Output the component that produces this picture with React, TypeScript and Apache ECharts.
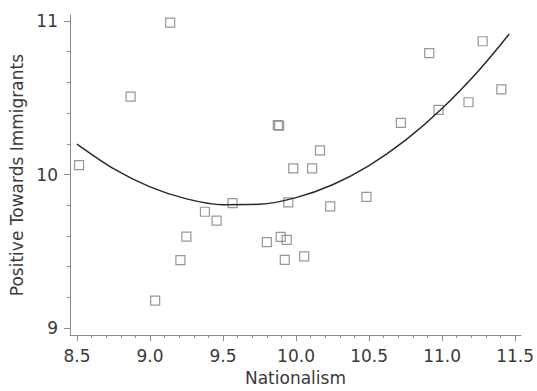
import React, { useEffect, useRef } from "react";
import * as echarts from "echarts";

// Scatter points: Nationalism (x) vs Positive Towards Immigrants (y)
const nationalism = [
  8.514, 8.867, 9.138, 9.035, 9.208, 9.249, 9.376, 9.456, 9.565, 9.8,
  9.875, 9.884, 10.164, 9.981, 10.11, 9.947, 10.234, 10.482, 9.895, 9.936,
  9.923, 10.056, 10.912, 11.278, 11.406, 11.181, 10.976, 10.718,
];
const positiveTowardsImmigrants = [
  10.061, 10.508, 10.989, 9.179, 9.443, 9.596, 9.758, 9.7, 9.814, 9.56,
  10.322, 10.318, 10.158, 10.041, 10.041, 9.819, 9.793, 9.855, 9.594, 9.575,
  9.445, 9.467, 10.791, 10.868, 10.555, 10.471, 10.421, 10.337,
];

// Fitted curve
const fitX = [8.5, 8.75, 9.0, 9.25, 9.5, 9.75, 10.0, 10.25, 10.5, 10.75, 11.0, 11.25, 11.46];
const fitY = [10.199, 10.039, 9.92, 9.842, 9.804, 9.807, 9.85, 9.934, 10.059, 10.224, 10.43, 10.676, 10.915];

// Tick values
const xMajorTicks = [8.5, 9.0, 9.5, 10.0, 10.5, 11.0, 11.5];
const xMinorTicks = [
  8.6, 8.7, 8.8, 8.9, 9.1, 9.2, 9.3, 9.4, 9.6, 9.7, 9.8, 9.9, 10.1, 10.2, 10.3, 10.4,
  10.6, 10.7, 10.8, 10.9, 11.1, 11.2, 11.3, 11.4,
];
const yMajorTicks = [9, 10, 11];
const yMinorTicks = [9.2, 9.4, 9.6, 9.8, 10.2, 10.4, 10.6, 10.8];

const X_MIN = 8.452;
const X_MAX = 11.54;
const Y_MIN = 8.955;
const Y_MAX = 11.039;

const FONT = "DejaVu Sans";
const TEXT = "#3a3a3a";
const AXIS = "#8c8c8c";

export default function App() {
  const ref = useRef<HTMLDivElement>(null);

  useEffect(() => {
    if (!ref.current) return;
    document.body.style.margin = "0";
    const chart = echarts.init(ref.current, undefined, { renderer: "svg" });
    const points = nationalism.map((x, i) => [x, positiveTowardsImmigrants[i]]);
    const curve = fitX.map((x, i) => [x, fitY[i]]);

    const baseX = {
      type: "value",
      min: X_MIN,
      max: X_MAX,
      position: "bottom",
      splitLine: { show: false },
    };
    const baseY = {
      type: "value",
      min: Y_MIN,
      max: Y_MAX,
      position: "left",
      splitLine: { show: false },
    };

    chart.setOption({
      animation: false,
      backgroundColor: "#ffffff",
      grid: { left: 70, right: 14, top: 15, bottom: 54.3, containLabel: false },
      xAxis: [
        {
          ...baseX,
          name: "Nationalism",
          nameLocation: "middle",
          nameGap: 29,
          nameTextStyle: { fontFamily: FONT, fontSize: 17, color: TEXT },
          axisLine: { show: true, lineStyle: { color: AXIS, width: 1 } },
          axisTick: { show: true, length: 6, customValues: xMajorTicks, lineStyle: { color: AXIS } },
          axisLabel: {
            customValues: xMajorTicks,
            margin: 12,
            fontFamily: FONT,
            fontSize: 17,
            color: TEXT,
            formatter: (v: number) => v.toFixed(1),
          },
        },
        {
          ...baseX,
          axisLine: { show: false },
          axisTick: { show: true, length: 3, customValues: xMinorTicks, lineStyle: { color: AXIS } },
          axisLabel: { show: false },
        },
      ],
      yAxis: [
        {
          ...baseY,
          name: "Positive Towards Immigrants",
          nameLocation: "middle",
          nameGap: 40,
          nameTextStyle: { fontFamily: FONT, fontSize: 17, color: TEXT },
          axisLine: { show: true, lineStyle: { color: AXIS, width: 1 } },
          axisTick: { show: true, length: 6, customValues: yMajorTicks, lineStyle: { color: AXIS } },
          axisLabel: {
            customValues: yMajorTicks,
            margin: 12,
            fontFamily: FONT,
            fontSize: 17,
            color: TEXT,
          },
        },
        {
          ...baseY,
          axisLine: { show: false },
          axisTick: { show: true, length: 3, customValues: yMinorTicks, lineStyle: { color: AXIS } },
          axisLabel: { show: false },
        },
      ],
      series: [
        {
          type: "scatter",
          xAxisIndex: 0,
          yAxisIndex: 0,
          data: points,
          symbol: "rect",
          symbolSize: 9,
          itemStyle: { color: "transparent", borderColor: "#7d7d7d", borderWidth: 1.2 },
          silent: true,
        },
        {
          type: "line",
          xAxisIndex: 0,
          yAxisIndex: 0,
          data: curve,
          smooth: 0.3,
          showSymbol: false,
          symbol: "none",
          lineStyle: { color: "#2a2a2a", width: 1.5 },
          silent: true,
        },
      ],
    });

    return () => chart.dispose();
  }, []);

  return (
    <div
      ref={ref}
      style={{ position: "absolute", left: 0, top: 0, width: 537, height: 391 }}
    />
  );
}
